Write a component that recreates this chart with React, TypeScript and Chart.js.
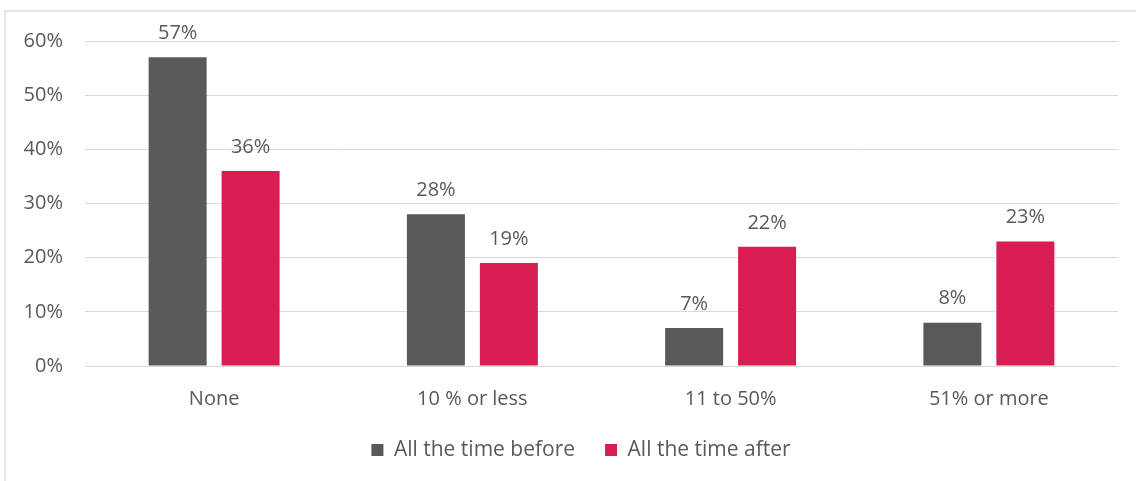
import React, { useEffect, useRef } from "react";
import { Chart, registerables } from "chart.js";

Chart.register(...registerables);

// Share of time spent, before vs after
const categories = ["None", "10 % or less", "11 to 50%", "51% or more"];
const beforeValues = [57, 28, 7, 8];
const afterValues = [36, 19, 22, 23];
const seriesNames = ["All the time before", "All the time after"];
const yMax = 60;
const yStep = 10;

const FONT = "'Open Sans', Lato, sans-serif";
const TEXT = "#595959";

// Writes each bar's value above it
const valueLabels = {
  id: "valueLabels",
  afterDatasetsDraw(chart: any) {
    const ctx = chart.ctx;
    ctx.save();
    ctx.font = `20px ${FONT}`;
    ctx.fillStyle = TEXT;
    ctx.textAlign = "center";
    ctx.textBaseline = "middle";
    chart.data.datasets.forEach((ds: any, di: number) => {
      const meta = chart.getDatasetMeta(di);
      meta.data.forEach((el: any, i: number) => {
        ctx.fillText(`${ds.data[i]}%`, el.x, el.y - 24);
      });
    });
    ctx.restore();
  },
};

// Centres the legend under the plot area rather than the whole canvas
const legendShift = {
  id: "legendShift",
  afterLayout(chart: any) {
    const lg = chart.legend;
    if (!lg) return;
    const dx = 22;
    lg.left += dx;
    lg.right += dx;
  },
};

export default function App() {
  const canvasRef = useRef<HTMLCanvasElement | null>(null);

  useEffect(() => {
    if (!canvasRef.current) return;
    const chart = new Chart(canvasRef.current, {
      type: "bar",
      data: {
        labels: categories,
        datasets: [
          {
            label: seriesNames[0],
            data: beforeValues,
            backgroundColor: "#58595b",
            categoryPercentage: 0.565,
            barPercentage: 0.795,
          },
          {
            label: seriesNames[1],
            data: afterValues,
            backgroundColor: "#d91d52",
            categoryPercentage: 0.565,
            barPercentage: 0.795,
          },
        ],
      },
      options: {
        responsive: false,
        animation: false,
        layout: { padding: { left: 0, right: 18, top: 41, bottom: 10.5 } },
        scales: {
          x: {
            grid: { display: false, drawTicks: false },
            border: { display: false },
            ticks: {
              color: TEXT,
              font: { family: FONT, size: 20 },
              padding: 21,
            },
            afterFit: (scale: any) => {
              scale.height = 43.5;
            },
          },
          y: {
            min: 0,
            max: yMax,
            grid: { color: "#d9d9d9", lineWidth: 1, drawTicks: false },
            border: { display: false },
            ticks: {
              stepSize: yStep,
              color: TEXT,
              font: { family: FONT, size: 20 },
              padding: 22,
              callback: (v: any) => `${v}%`,
            },
            afterFit: (scale: any) => {
              scale.width = 85;
            },
          },
        },
        plugins: {
          legend: {
            position: "bottom",
            labels: {
              color: TEXT,
              font: { family: FONT, size: 21 },
              boxWidth: 12,
              boxHeight: 12,
              padding: 30,
            },
          },
          tooltip: { enabled: false },
        },
      },
      plugins: [valueLabels, legendShift],
    });
    return () => chart.destroy();
  }, []);

  return (
    <div
      style={{
        position: "fixed",
        left: 0,
        top: 0,
        width: 1136,
        height: 481,
        overflow: "hidden",
        background: "#fff",
      }}
    >
      <div
        style={{
          position: "absolute",
          left: 4,
          top: 10,
          width: 1200,
          height: 600,
          borderLeft: "2px solid #e6e6e6",
          borderTop: "2px solid #e6e6e6",
        }}
      />
      <canvas
        ref={canvasRef}
        width={1136}
        height={481}
        style={{ position: "absolute", left: 0, top: 0 }}
      />
    </div>
  );
}
